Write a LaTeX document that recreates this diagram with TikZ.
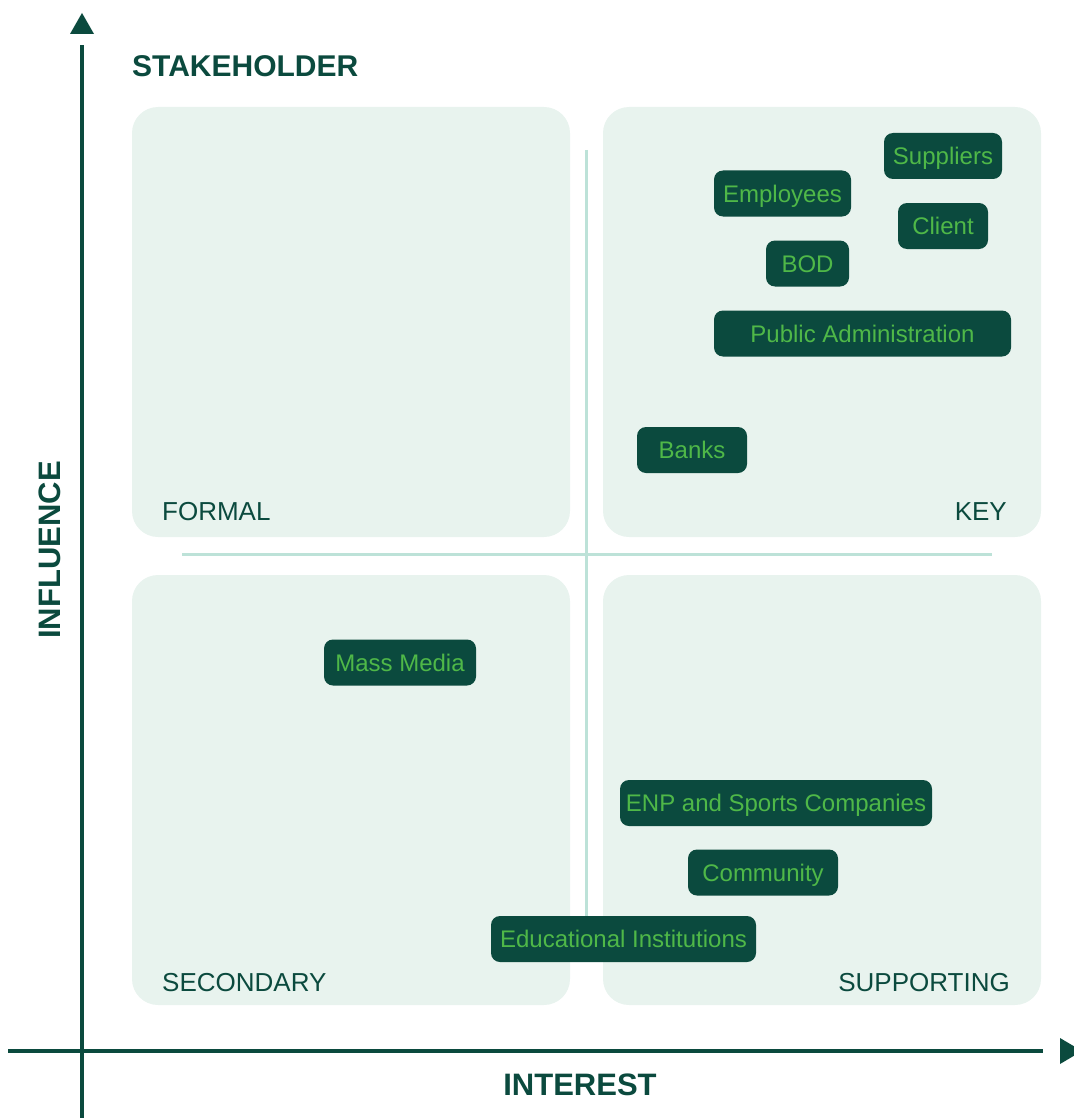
\documentclass[tikz,border=0pt]{standalone}
\usepackage{fontspec}
\setmainfont{Liberation Sans}
\definecolor{deepgreen}{HTML}{0B4A3E}
\definecolor{leafgreen}{HTML}{4FB848}
\definecolor{panelfill}{HTML}{E8F3EE}
\definecolor{crossline}{HTML}{BDE2D8}
\tikzset{
  panel/.style={fill=panelfill, rounded corners=26pt},
  pill/.style={fill=deepgreen, rounded corners=9pt, text=leafgreen, minimum height=46pt,
    inner sep=0pt, text height=17pt, text depth=0pt, font=\fontsize{24}{24}\selectfont},
  quadlabel/.style={text=deepgreen, inner sep=0pt, font=\fontsize{26}{26}\selectfont},
  axislabel/.style={text=deepgreen, inner sep=0pt, font=\fontsize{31}{31}\selectfont\bfseries},
  axisline/.style={draw=deepgreen, line width=4pt},
}
\begin{document}
\begin{tikzpicture}[x=1pt, y=-1pt]
\useasboundingbox (0,0) rectangle (1073,1118);

% quadrant panels
\fill[panel] (132,107) rectangle (570,537);
\fill[panel] (603,107) rectangle (1041,537);
\fill[panel] (132,575) rectangle (570,1005);
\fill[panel] (603,575) rectangle (1041,1005);

% dividing cross
\draw[crossline, line width=3pt] (586,150) -- (586,940);
\draw[crossline, line width=3pt] (182,554) -- (992,554);

% axes
\coordinate (ytop) at (82,45);
\coordinate (ybot) at (82,1118);
\coordinate (xleft) at (8,1051);
\coordinate (xright) at (1043,1051);
\draw[axisline] (ybot) -- (ytop);
\draw[axisline] (xleft) -- (xright);
\fill[deepgreen] (70,34) -- (82,13) -- (94,34) -- cycle;
\fill[deepgreen] (1060,1038) -- (1082,1051) -- (1060,1064) -- cycle;

% axis titles
\node[axislabel, font=\fontsize{30}{30}\selectfont\bfseries, anchor=west] (title) at (132,66) {STAKEHOLDER};
\node[axislabel, rotate=90] (influence) at (50,550) {INFLUENCE};
\node[axislabel] (interest) at (580,1085) {INTEREST};

% quadrant names
\node[quadlabel, anchor=west] (formal) at (162,512) {FORMAL};
\node[quadlabel, anchor=east] (key) at (1007,512) {KEY};
\node[quadlabel, anchor=west] (secondary) at (162,983) {SECONDARY};
\node[quadlabel, anchor=east] (supporting) at (1010,983) {SUPPORTING};

% stakeholders
\node[pill, minimum width=118pt] (suppliers) at (943,156) {Suppliers};
\node[pill, minimum width=137pt] (employees) at (782.5,193.5) {Employees};
\node[pill, minimum width=90pt] (client) at (943,226) {Client};
\node[pill, minimum width=83pt] (bod) at (807.5,263.5) {BOD};
\node[pill, minimum width=297pt] (publicadmin) at (862.5,333.5) {Public Administration};
\node[pill, minimum width=110pt] (banks) at (692,450) {Banks};
\node[pill, minimum width=152pt] (massmedia) at (400,662.5) {Mass Media};
\node[pill, minimum width=312pt] (enp) at (776,803) {ENP and Sports Companies};
\node[pill, minimum width=150pt] (community) at (763,872.5) {Community};
\node[pill, minimum width=265pt] (education) at (623.5,939) {Educational Institutions};
\end{tikzpicture}
\end{document}
